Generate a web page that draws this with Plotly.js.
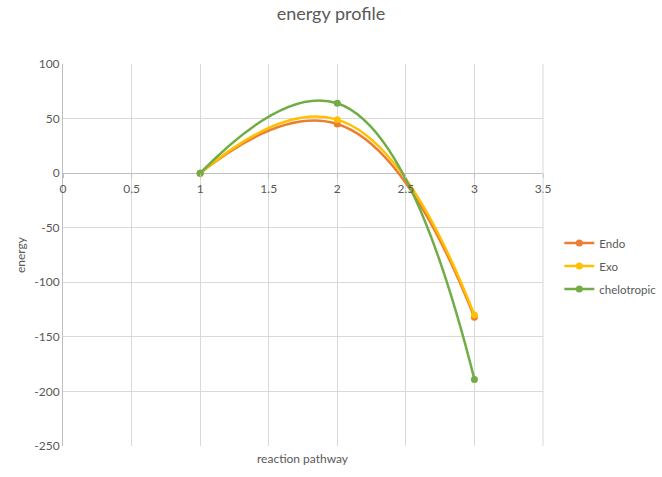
<!DOCTYPE html>
<html>
<head>
<meta charset="utf-8">
<script src="https://cdn.plot.ly/plotly-3.0.1.min.js"></script>
<style>
  html, body { margin: 0; padding: 0; background: #fff; }
  #chart { width: 662px; height: 477px; }
</style>
</head>
<body>
<div id="chart"></div>
<script>
// reaction coordinate steps
const steps = [1, 2, 3];

// energy values per pathway
const endo = [0, 45, -132];
const exo = [0, 49, -130];
const chelotropic = [0, 64, -189];

const seriesNames = ["Endo", "Exo", "chelotropic"];
const seriesColors = ["#ED7D31", "#FFC000", "#70AD47"];

const xTicks = [0, 0.5, 1, 1.5, 2, 2.5, 3, 3.5];
const yTicks = [100, 50, 0, -50, -100, -150, -200, -250];

const textColor = "#595959";
const gridColor = "#d9d9d9";
const axisColor = "#bfbfbf";
const font = "Lato, 'Open Sans', sans-serif";

const traces = [endo, exo, chelotropic].map((vals, i) => ({
    x: steps,
    y: vals,
    type: "scatter",
    mode: "lines+markers",
    name: seriesNames[i],
    legendgroup: "g" + i,
    line: { color: seriesColors[i], width: 2.5, shape: "spline", smoothing: 1.3 },
    marker: { color: seriesColors[i], size: 7 }
}));

const yMin = -250, yMax = 100;

const layout = {
    width: 662,
    height: 477,
    margin: { l: 63, r: 119, t: 64, b: 31, autoexpand: false },
    paper_bgcolor: "#fff",
    plot_bgcolor: "#fff",
    font: { family: font, color: textColor, size: 12 },
    title: {
        text: "energy profile",
        font: { family: font, size: 18, color: textColor },
        x: 0.5, xanchor: "center", y: 0.985, yanchor: "top"
    },
    xaxis: {
        range: [0, 3.5],
        tickvals: xTicks,
        ticktext: xTicks.map(String),
        showgrid: true,
        gridcolor: gridColor,
        gridwidth: 1,
        zeroline: false,
        showline: false,
        ticks: "outside",
        ticklen: 4,
        tickcolor: axisColor,
        anchor: "free",
        position: (0 - yMin) / (yMax - yMin),
        tickfont: { family: font, size: 12, color: textColor },
        fixedrange: true
    },
    yaxis: {
        range: [yMin, yMax],
        tickvals: yTicks,
        ticktext: yTicks.map(String),
        showgrid: true,
        gridcolor: gridColor,
        gridwidth: 1,
        zeroline: true,
        zerolinecolor: axisColor,
        zerolinewidth: 1,
        showline: true,
        linecolor: axisColor,
        linewidth: 1,
        ticks: "",
        title: {
            text: "energy",
            font: { family: font, size: 12, color: textColor },
            standoff: 6
        },
        tickfont: { family: font, size: 12, color: textColor },
        fixedrange: true
    },
    annotations: [{
        text: "reaction pathway",
        xref: "paper", yref: "paper",
        x: 0.5, y: 0, yshift: -12,
        xanchor: "center", yanchor: "middle",
        showarrow: false,
        font: { family: font, size: 12, color: textColor }
    }],
    shapes: [{
        type: "line", xref: "paper", yref: "paper",
        x0: 1, x1: 1, y0: 0, y1: 1,
        line: { color: gridColor, width: 1 }
    }],
    showlegend: true,
    legend: {
        x: 1.034, xanchor: "left",
        y: 0.471, yanchor: "middle",
        tracegroupgap: 4,
        itemwidth: 30,
        font: { family: font, size: 11.5, color: textColor },
        bgcolor: "rgba(0,0,0,0)"
    }
};

Plotly.newPlot("chart", traces, layout, { displayModeBar: false, staticPlot: true });
</script>
</body>
</html>
